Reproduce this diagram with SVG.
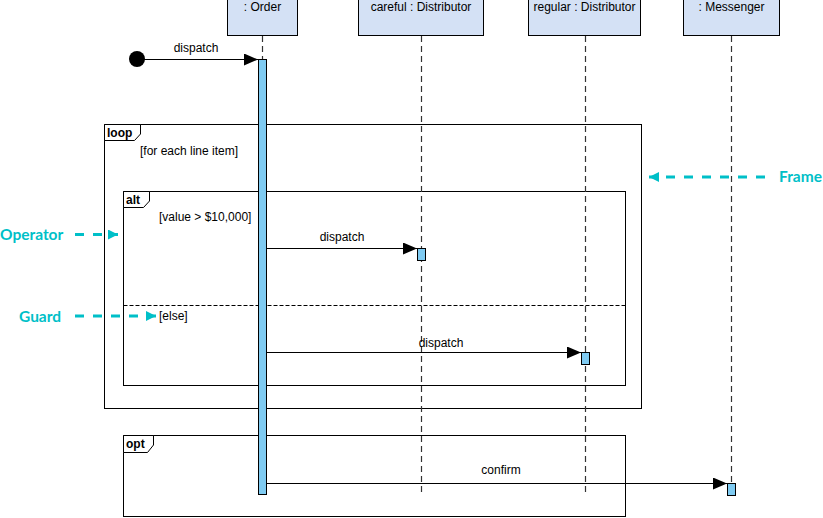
<svg xmlns="http://www.w3.org/2000/svg" width="823" height="518" viewBox="0 0 823 518">
<defs>
<style>
.hd{fill:#D4E1F5;stroke:#000;stroke-width:1}
.t{font-family:"Liberation Sans",Arial,sans-serif;font-size:12px;fill:#000}
.tb{font-family:"Liberation Sans",Arial,sans-serif;font-size:12px;font-weight:bold;fill:#000}
.ll{stroke:#333;stroke-width:1.2;stroke-dasharray:6 4;fill:none}
.act{fill:#7FCBF2;stroke:#000;stroke-width:1}
.fr{fill:none;stroke:#000;stroke-width:1}
.tab{fill:#fff;stroke:#000;stroke-width:1}
.msg{stroke:#000;stroke-width:1;fill:none;marker-end:url(#ah)}
.ann{font-family:"Lato","Liberation Sans",sans-serif;font-size:15.5px;font-weight:bold;fill:#00BFC8}
.anl{stroke:#00BFC8;stroke-width:3;stroke-dasharray:9 9;fill:none}
</style>
<marker id="ah" viewBox="0 0 14 12" refX="14" refY="6" markerWidth="14" markerHeight="12" markerUnits="userSpaceOnUse" orient="auto">
<path d="M0,0 L14,6 L0,12 Z" fill="#000"/>
</marker>
<marker id="ca" viewBox="0 0 10 10" refX="10" refY="5" markerWidth="10" markerHeight="10" markerUnits="userSpaceOnUse" orient="auto">
<path d="M0,0 L10,5 L0,10 Z" fill="#00BFC8"/>
</marker>
</defs>

<g id="frames">
<g id="loop">
<rect class="fr" x="104.5" y="124.5" width="537" height="284"/>
<path class="tab" d="M104.5,124.5 L140.5,124.5 L140.5,134 L134.5,140.5 L104.5,140.5 Z"/>
<text class="tb" x="107" y="137">loop</text>
<text class="t" x="140" y="155">[for each line item]</text>
</g>
<g id="alt">
<rect class="fr" x="123.5" y="191.5" width="502" height="194"/>
<path class="tab" d="M123.5,191.5 L149.5,191.5 L149.5,201 L143.5,207.5 L123.5,207.5 Z"/>
<text class="tb" x="126" y="204">alt</text>
<text class="t" x="159" y="221">[value &gt; $10,000]</text>
<line x1="123.5" y1="305.5" x2="625.5" y2="305.5" stroke="#000" stroke-width="1" stroke-dasharray="4 2"/>
<text class="t" x="159" y="320">[else]</text>
</g>
<g id="opt">
<rect class="fr" x="123.5" y="435.5" width="502" height="81"/>
<path class="tab" d="M123.5,435.5 L153.5,435.5 L153.5,445 L147.5,452.5 L123.5,452.5 Z"/>
<text class="tb" x="126" y="448">opt</text>
</g>
</g>

<g id="lifelines">
<g id="order">
<rect class="hd" x="227.5" y="-1" width="70" height="36.5"/>
<text class="t" x="262.5" y="11" text-anchor="middle">: Order</text>
<line class="ll" x1="262.5" y1="36" x2="262.5" y2="494"/>
</g>
<g id="careful">
<rect class="hd" x="358.5" y="-1" width="125" height="36.5"/>
<text class="t" x="421" y="11" text-anchor="middle">careful : Distributor</text>
<line class="ll" x1="421.5" y1="36" x2="421.5" y2="494"/>
</g>
<g id="regular">
<rect class="hd" x="528.5" y="-1" width="112" height="36.5"/>
<text class="t" x="584.5" y="11" text-anchor="middle">regular : Distributor</text>
<line class="ll" x1="585.5" y1="36" x2="585.5" y2="494"/>
</g>
<g id="messenger">
<rect class="hd" x="683.5" y="-1" width="96" height="36.5"/>
<text class="t" x="731.5" y="11" text-anchor="middle">: Messenger</text>
<line class="ll" x1="731.5" y1="36" x2="731.5" y2="483"/>
</g>
</g>

<g id="activations">
<rect class="act" x="258.5" y="59.5" width="8" height="435"/>
<rect class="act" x="417.5" y="248.5" width="8" height="12"/>
<rect class="act" x="581.5" y="352.5" width="8" height="12"/>
<rect class="act" x="727.5" y="483.5" width="8" height="12"/>
</g>

<g id="start">
<circle cx="137" cy="59" r="8" fill="#000"/>
</g>

<g id="connectors">
<line class="msg" x1="137" y1="59.5" x2="258" y2="59.5"/>
<text class="t" x="196" y="52" text-anchor="middle">dispatch</text>
<line class="msg" x1="266" y1="248.5" x2="417" y2="248.5"/>
<text class="t" x="342" y="241" text-anchor="middle">dispatch</text>
<line class="msg" x1="266" y1="352.5" x2="581" y2="352.5"/>
<text class="t" x="441" y="347" text-anchor="middle">dispatch</text>
<line class="msg" x1="266" y1="483.5" x2="727" y2="483.5"/>
<text class="t" x="501" y="474" text-anchor="middle">confirm</text>
</g>

<g id="annotations">
<text class="ann" x="822" y="182" text-anchor="end">Frame</text>
<line class="anl" x1="765" y1="177" x2="649" y2="177" marker-end="url(#ca)"/>
<text class="ann" x="0" y="239.5">Operator</text>
<line class="anl" x1="75" y1="234.5" x2="118" y2="234.5" marker-end="url(#ca)"/>
<text class="ann" x="19" y="321.5">Guard</text>
<line class="anl" x1="75" y1="316" x2="156" y2="316" marker-end="url(#ca)"/>
</g>
</svg>
